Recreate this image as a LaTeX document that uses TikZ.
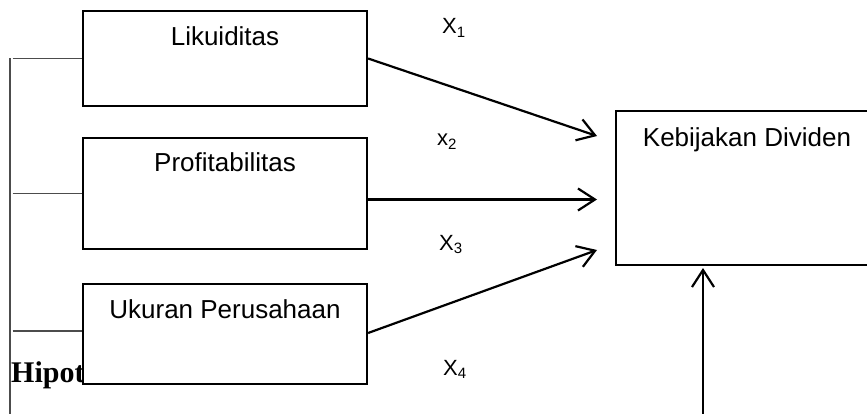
\documentclass[tikz,border=0pt]{standalone}
\usepackage{fontspec}
\setmainfont{Liberation Sans}
\newfontfamily\headserif{Liberation Serif}
\usetikzlibrary{arrows.meta,calc}

\tikzset{
  varbox/.style={draw=black, line width=2.2pt, fill=white, rectangle, inner sep=0pt},
  boxtext/.style={anchor=base, inner sep=0pt, font=\fontsize{26}{30}\selectfont},
  varlabel/.style={anchor=base west, inner sep=0pt, font=\fontsize{22}{24}\selectfont},
  link/.style={draw=black!70, line width=1.1pt},
  effect/.style={draw=black, line width=2.2pt, -{Straight Barb[length=17pt,width=22pt,line width=2.2pt]}},
}
\newcommand{\sub}[1]{\raisebox{-3.5pt}{\fontsize{15}{15}\selectfont #1}}

\begin{document}
\begin{tikzpicture}[x=1pt, y=-1pt]
  \useasboundingbox (0,0) rectangle (867,414);
  \clip (0,0) rectangle (867,414);

  % heading partly hidden behind the third box
  \node[anchor=base west, inner sep=0pt, font=\headserif\bfseries\fontsize{30}{32}\selectfont] (head) at (11,382) {Hipot};

  % independent variables
  \node[varbox, minimum width=284pt, minimum height=95pt]  (likuid) at (225,58.5)  {};
  \node[varbox, minimum width=284pt, minimum height=111pt] (profit) at (225,193.5) {};
  \node[varbox, minimum width=284pt, minimum height=100pt] (ukuran) at (225,334)   {};
  \node[boxtext] (likuidT) at ($(likuid.north)+(0,36)$) {Likuiditas};
  \node[boxtext] (profitT) at ($(profit.north)+(0,35)$) {Profitabilitas};
  \node[boxtext] (ukuranT) at ($(ukuran.north)+(0,36)$) {Ukuran Perusahaan};

  % dependent variable
  \node[varbox, minimum width=262pt, minimum height=154pt] (divid) at (747,188) {};
  \node[boxtext] (dividT) at ($(divid.north)+(0,37)$) {Kebijakan Dividen};

  % bracket on the left
  \coordinate (railtop) at (10,58.5);
  \coordinate (railbot) at (10,414);
  \coordinate (rail)    at (12.7,0);
  \draw[link] (railtop) -- (railbot);
  \draw[link] (rail |- likuid.west) -- (likuid.west);
  \draw[link] (rail |- profit.west) -- (profit.west);
  \draw[link] ($(rail |- ukuran.west)+(0,-3)$) -- ($(ukuran.west)+(0,-3)$);

  % arrow ends in front of the dependent box
  \coordinate (in1) at (597,136);
  \coordinate (in2) at (597,199.5);
  \coordinate (in3) at (597,250);
  \coordinate (up0) at (703,414);
  \coordinate (up1) at (703,268);

  \draw[effect] (likuid.east) -- (in1);
  \draw[effect] ($(likuid.east |- in2)$) -- (in2);
  \draw[effect] ($(ukuran.east)+(0,-1)$) -- (in3);
  \draw[effect] (up0) -- (up1);

  % path labels
  \node[varlabel] (x1) at (442,34)  {X\sub{1}};
  \node[varlabel] (x2) at (437,146) {x\sub{2}};
  \node[varlabel] (x3) at (439,250) {X\sub{3}};
  \node[varlabel] (x4) at (443,375) {X\sub{4}};
\end{tikzpicture}
\end{document}
